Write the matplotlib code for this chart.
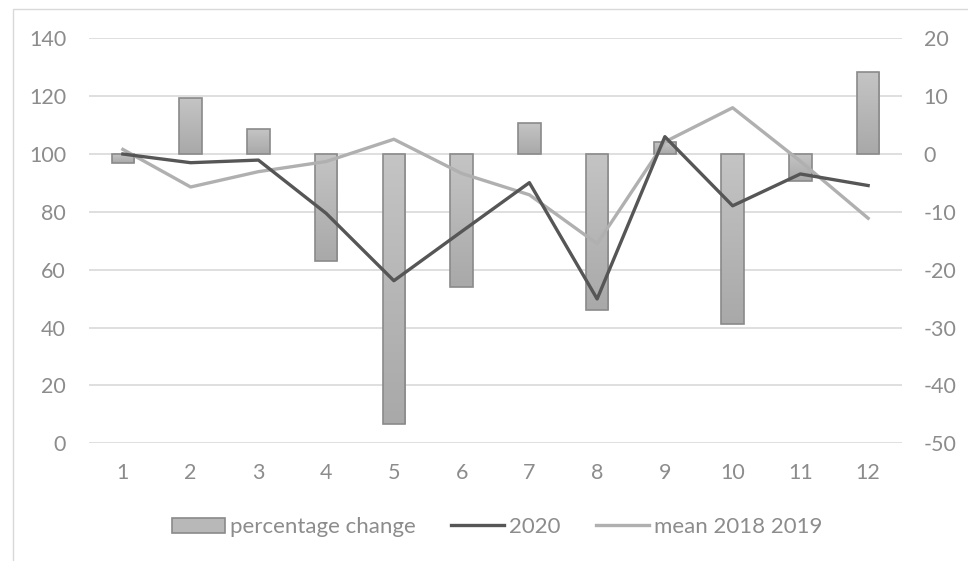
import numpy as np
import matplotlib.pyplot as plt
from matplotlib.patches import Rectangle, Patch
from matplotlib.lines import Line2D
from matplotlib.colors import LinearSegmentedColormap

# values
months = [1, 2, 3, 4, 5, 6, 7, 8, 9, 10, 11, 12]
pct_change = [-1.5, 9.6, 4.3, -18.5, -46.7, -22.9, 5.3, -27.0, 2.0, -29.3, -4.6, 14.1]
values_2020 = [100.0, 97.0, 97.9, 79.5, 56.2, 73.2, 90.1, 49.9, 106.0, 82.1, 93.1, 89.1]
mean_2018_2019 = [101.6, 88.6, 93.9, 97.4, 105.1, 93.3, 85.9, 69.0, 104.2, 116.0, 97.5, 77.8]

left_ticks = [0, 20, 40, 60, 80, 100, 120, 140]
right_ticks = [-50, -40, -30, -20, -10, 0, 10, 20]

text_col = '#8c8c8c'
grid_col = '#d9d9d9'
bar_edge = '#8a8a8a'
plt.rcParams['font.family'] = ['Lato', 'DejaVu Sans']
plt.rcParams['axes.unicode_minus'] = False
fs = 15.5

fig = plt.figure(figsize=(9.68, 5.61), dpi=100)
fig.patch.set_facecolor('white')

# outer chart frame
fig.add_artist(Rectangle((13 / 968, -0.1), 2, (561 - 9) / 561 + 0.1,
                         transform=fig.transFigure, fill=False,
                         edgecolor=grid_col, linewidth=1))

ax = fig.add_axes([89 / 968, 117.7 / 561, 813 / 968, 405 / 561])
ax2 = ax.twinx()

# percentage change bars on the right-hand scale
ax.set_ylim(-50, 20)
ax.grid(axis='y', color=grid_col, linewidth=1.2)
ax.set_axisbelow(True)
for s in ax.spines.values():
    s.set_visible(False)

bars = ax.bar(months, pct_change, width=0.33, color='#b8b8b8',
              edgecolor=bar_edge, linewidth=1.2, zorder=2)
# vertical gradient fill inside each bar
bar_cmap = LinearSegmentedColormap.from_list('bar', ['#c4c4c4', '#a9a9a9'])
grad = np.linspace(0, 1, 64).reshape(-1, 1)
for b in bars:
    x0, y0 = b.get_x(), b.get_y()
    w, h = b.get_width(), b.get_height()
    im = ax.imshow(grad, extent=(x0, x0 + w, min(y0, y0 + h), max(y0, y0 + h)),
                   cmap=bar_cmap, aspect='auto', origin='upper', zorder=2.1)
    im.set_clip_path(b)
    b.set_facecolor('none')
    b.set_zorder(2.2)
ax.set_xlim(0.5, 12.5)
ax.set_ylim(-50, 20)
ax.set_yticks(right_ticks)
ax.yaxis.tick_right()
ax.set_xticks(months)
ax.tick_params(axis='x', length=0, pad=14, labelsize=fs, labelcolor=text_col)
ax.tick_params(axis='y', length=0, pad=15.5, labelsize=fs, labelcolor=text_col)

# lines on the left-hand scale
ax2.set_ylim(0, 140)
ax2.set_yticks(left_ticks)
ax2.yaxis.tick_left()
ax2.tick_params(axis='y', length=0, pad=16.5, labelsize=fs, labelcolor=text_col)
for s in ax2.spines.values():
    s.set_visible(False)
ax2.plot(months, mean_2018_2019, color='#b0b0b0', linewidth=2.4)
ax2.plot(months, values_2020, color='#565656', linewidth=2.4)

handles = [Patch(facecolor='#b8b8b8', edgecolor=bar_edge, linewidth=1.2),
           Line2D([], [], color='#565656', linewidth=2.4),
           Line2D([], [], color='#b0b0b0', linewidth=2.4)]
leg = fig.legend(handles, ['percentage change', '2020', 'mean 2018 2019'],
                 loc='center', bbox_to_anchor=(497 / 968, 1 - 527 / 561), ncol=3,
                 frameon=False, fontsize=16, handlelength=2.4, handletextpad=0.2,
                 columnspacing=1.6, handleheight=0.65)
for t in leg.get_texts():
    t.set_color(text_col)

fig.savefig('out.png', dpi=100)
